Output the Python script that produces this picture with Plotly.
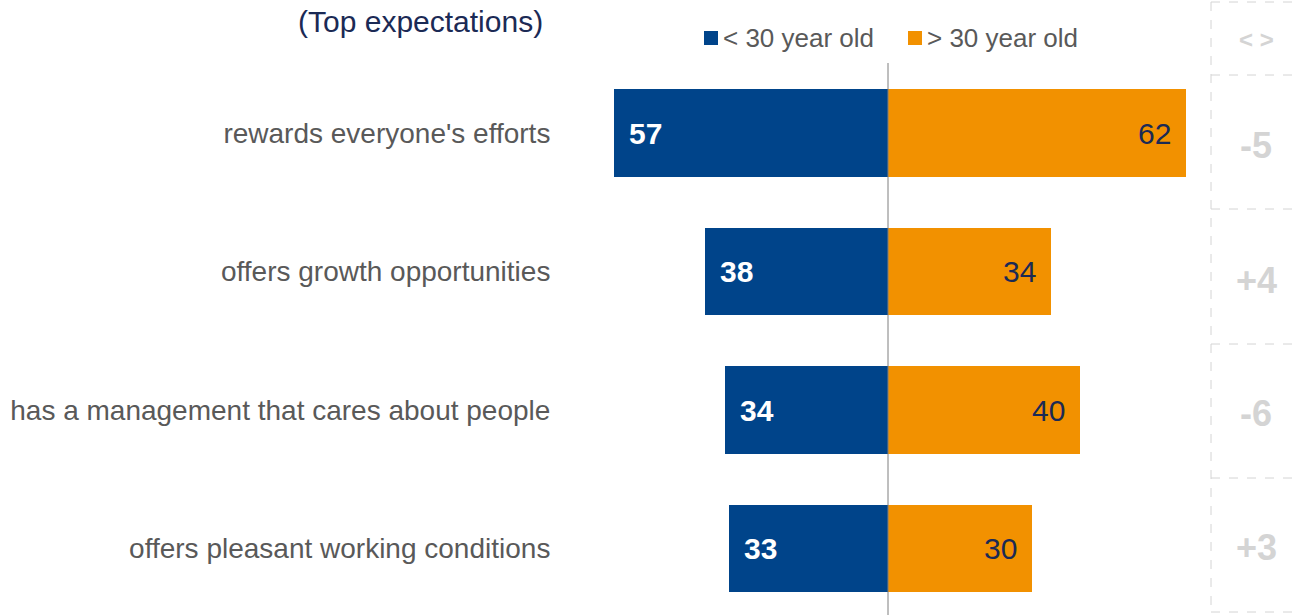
import plotly.graph_objects as go

# Survey results: share of respondents naming each expectation
categories = [
    "rewards everyone's efforts",
    "offers growth opportunities",
    "has a management that cares about people",
    "offers pleasant working conditions",
]
under_30 = [57, 38, 34, 33]
over_30 = [62, 34, 40, 30]
series_names = ["< 30 year old", "> 30 year old"]
title_text = "(Top expectations)"
diff_header = "< >"

W, H = 1293, 615
BLUE = "#00448a"
ORANGE = "#f29100"
LABEL_GREY = "#595959"
NAVY = "#1b2a55"
PANEL_GREY = "#d4d4d4"
FONT = "Arial"

rows = list(range(len(categories)))

# Pixel geometry of the plotting area
px_per_unit = 4.807
zero_px = 888
left_px = 563
x_range = [-(zero_px - left_px) / px_per_unit, (W - zero_px) / px_per_unit]
row_top_center, row_step = 133, 138.5
y_range = [(H - row_top_center) / row_step, -row_top_center / row_step]


def px(x):
    return x / W


def py(y):
    return 1 - y / H


fig = go.Figure()
fig.add_trace(go.Bar(
    y=rows, x=[-v for v in under_30], orientation="h", width=0.63,
    marker=dict(color=BLUE, line=dict(width=0)), name=series_names[0],
    showlegend=False, hoverinfo="skip",
))
fig.add_trace(go.Bar(
    y=rows, x=over_30, orientation="h", width=0.63,
    marker=dict(color=ORANGE, line=dict(width=0)), name=series_names[1],
    showlegend=False, hoverinfo="skip",
))

annotations = []
# Value labels inside the bars
for r, v in zip(rows, under_30):
    annotations.append(dict(
        x=-v, y=r, xref="x", yref="y", text=f"<b>{v}</b>", showarrow=False,
        xanchor="left", xshift=13,
        font=dict(family=FONT, size=30, color="white"),
    ))
for r, v in zip(rows, over_30):
    annotations.append(dict(
        x=v, y=r, xref="x", yref="y", text=str(v), showarrow=False,
        xanchor="right", xshift=-13,
        font=dict(family=FONT, size=30, color=NAVY),
    ))

# Title
annotations.append(dict(
    x=px(545), y=py(22), xref="paper", yref="paper", text=title_text,
    showarrow=False, xanchor="right", yanchor="middle",
    font=dict(family=FONT, size=30, color=NAVY),
))

# Legend: coloured squares + labels
legend_items = [(704, BLUE, series_names[0]), (908, ORANGE, series_names[1])]
shapes = []
for x0, col, name in legend_items:
    shapes.append(dict(
        type="rect", xref="paper", yref="paper",
        x0=px(x0), x1=px(x0 + 14), y0=py(45), y1=py(31),
        fillcolor=col, line=dict(width=0),
    ))
    annotations.append(dict(
        x=px(x0 + 17), y=py(38), xref="paper", yref="paper", text=name,
        showarrow=False, xanchor="left", yanchor="middle",
        font=dict(family=FONT, size=26, color=LABEL_GREY),
    ))

# Centre divider
shapes.append(dict(
    type="line", xref="x", yref="paper", x0=0, x1=0, y0=0, y1=py(63),
    line=dict(color="#7f7f7f", width=1),
))

# Difference panel on the right
panel_x0 = 1211
panel_lines = [2, 75, 209, 344, 478, 612]
for yl in panel_lines:
    shapes.append(dict(
        type="line", xref="paper", yref="paper", x0=px(panel_x0), x1=1,
        y0=py(yl), y1=py(yl), line=dict(color=PANEL_GREY, width=1, dash="dash"),
    ))
shapes.append(dict(
    type="line", xref="paper", yref="paper", x0=px(panel_x0), x1=px(panel_x0),
    y0=py(panel_lines[0]), y1=py(panel_lines[-1]),
    line=dict(color=PANEL_GREY, width=1, dash="dash"),
))
panel_cx = px(1256)
annotations.append(dict(
    x=panel_cx, y=py(39), xref="paper", yref="paper", text=f"<b>{diff_header}</b>",
    showarrow=False, xanchor="center", yanchor="middle",
    font=dict(family=FONT, size=24, color=PANEL_GREY),
))
panel_text_y = [145, 280, 413, 547]
for yt, a, b in zip(panel_text_y, under_30, over_30):
    d = a - b
    annotations.append(dict(
        x=panel_cx, y=py(yt), xref="paper", yref="paper", text=f"<b>{d:+d}</b>",
        showarrow=False, xanchor="center", yanchor="middle",
        font=dict(family=FONT, size=36, color=PANEL_GREY),
    ))

fig.update_layout(
    width=W, height=H,
    margin=dict(l=0, r=0, t=0, b=0),
    paper_bgcolor="white", plot_bgcolor="white",
    barmode="relative",
    bargap=0,
    showlegend=False,
    xaxis=dict(domain=[px(left_px), 1], range=x_range, showgrid=False,
               zeroline=False, showticklabels=False, ticks="", fixedrange=True),
    yaxis=dict(range=y_range, tickvals=rows, ticktext=categories,
               showgrid=False, zeroline=False, ticks="outside", ticklen=6,
               tickcolor="rgba(0,0,0,0)", automargin=False,
               tickfont=dict(family=FONT, size=28, color=LABEL_GREY)),
    annotations=annotations,
    shapes=shapes,
)

fig.write_html("out.html")
